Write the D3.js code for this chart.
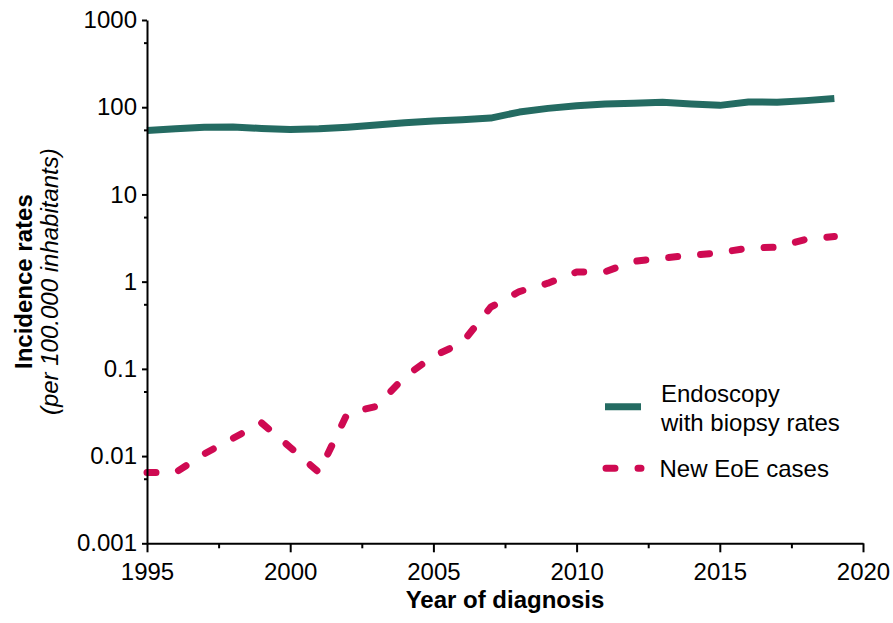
<!DOCTYPE html>
<html>
<head>
<meta charset="utf-8">
<script src="https://cdn.jsdelivr.net/npm/d3@7"></script>
<style>
  html, body { margin: 0; padding: 0; background: #fff; }
  svg { display: block; font-family: "Liberation Sans", Arial, sans-serif; }
</style>
</head>
<body>
<div id="chart"></div>
<script>
// data -------------------------------------------------------------------------------------
const years = [1995, 1996, 1997, 1998, 1999, 2000, 2001, 2002, 2003, 2004, 2005, 2006, 2007,
  2008, 2009, 2010, 2011, 2012, 2013, 2014, 2015, 2016, 2017, 2018, 2019];
const endoscopy = [54, 56.5, 59, 59.5, 57, 55.5, 56.5, 59, 62.5, 66.5, 69.5, 72, 75,
  88, 97, 104, 109, 111, 114, 109, 105, 115, 114, 119, 126];
const newEoE = [0.0065, 0.0065, 0.0106, 0.016, 0.024, 0.0126, 0.0065, 0.031, 0.037, 0.081, 0.14, 0.198, 0.51,
  0.77, 0.96, 1.29, 1.3, 1.71, 1.87, 2.0, 2.15, 2.43, 2.48, 3.05, 3.3];
const yTicks = [0.001, 0.01, 0.1, 1, 10, 100, 1000];
const yTickLabels = ['0.001', '0.01', '0.1', '1', '10', '100', '1000'];
const yMinorTicks = [0.0055, 0.055, 0.55, 5.5, 55, 550];
const xTicks = [1995, 2000, 2005, 2010, 2015, 2020];
const xMinorTicks = [1997.5, 2002.5, 2007.5, 2012.5, 2017.5];
const seriesNames = ['Endoscopy', 'with biopsy rates', 'New EoE cases'];

// size -------------------------------------------------------------------------------------
const width = 893;
const height = 623;
const plot = { left: 147, right: 863, top: 20, bottom: 543.3 };
const green = '#246b62';
const red = '#cf0a52';
const fontSize = 24;

const svg = d3.select('#chart').append('svg')
  .attr('width', width)
  .attr('height', height)
  .attr('viewBox', '0 0 ' + width + ' ' + height);

// scales -----------------------------------------------------------------------------------
const xScale = d3.scaleLinear()
  .domain([1995, 2020])
  .range([plot.left, plot.right]);
const yScale = d3.scaleLog()
  .domain([0.001, 1000])
  .range([plot.bottom, plot.top]);

// lines ------------------------------------------------------------------------------------
const line = d3.line()
  .x(d => xScale(d[0]))
  .y(d => yScale(d[1]));

svg.append('path')
  .datum(years.map((y, i) => [y, endoscopy[i]]))
  .attr('d', line)
  .attr('fill', 'none')
  .attr('stroke', green)
  .attr('stroke-width', 7)
  .attr('stroke-linejoin', 'round');

svg.append('path')
  .datum(years.map((y, i) => [y, newEoE[i]]))
  .attr('d', line)
  .attr('fill', 'none')
  .attr('stroke', red)
  .attr('stroke-width', 7)
  .attr('stroke-linecap', 'round')
  .attr('stroke-linejoin', 'round')
  .attr('stroke-dasharray', '9,23');

// y axis -----------------------------------------------------------------------------------
const yAxis = svg.append('g')
  .attr('transform', 'translate(' + plot.left + ',0)')
  .call(d3.axisLeft(yScale)
    .tickValues(yTicks)
    .tickFormat((d, i) => yTickLabels[i])
    .tickSize(5)
    .tickPadding(5)
    .tickSizeOuter(0));
svg.append('g')
  .attr('transform', 'translate(' + plot.left + ',0)')
  .call(d3.axisLeft(yScale)
    .tickValues(yMinorTicks)
    .tickFormat('')
    .tickSize(3)
    .tickSizeOuter(0))
  .select('.domain').remove();

// x axis -----------------------------------------------------------------------------------
const xAxis = svg.append('g')
  .attr('transform', 'translate(0,' + plot.bottom + ')')
  .call(d3.axisBottom(xScale)
    .tickValues(xTicks)
    .tickFormat(d3.format('d'))
    .tickSize(9)
    .tickSizeOuter(0));
svg.append('g')
  .attr('transform', 'translate(0,' + plot.bottom + ')')
  .call(d3.axisBottom(xScale)
    .tickValues(xMinorTicks)
    .tickFormat('')
    .tickSize(5)
    .tickSizeOuter(0))
  .select('.domain').remove();

xAxis.selectAll('text')
  .attr('y', 36.7)
  .attr('dy', 0);

svg.selectAll('.domain, .tick line')
  .attr('stroke', '#000')
  .attr('stroke-width', 2);
svg.selectAll('.tick text')
  .attr('fill', '#000')
  .attr('font-size', fontSize + 'px')
  .attr('font-family', '"Liberation Sans", Arial, sans-serif');

// axis titles ------------------------------------------------------------------------------
svg.append('text')
  .attr('x', 505)
  .attr('y', 608)
  .attr('text-anchor', 'middle')
  .attr('font-size', fontSize + 'px')
  .attr('font-weight', 'bold')
  .text('Year of diagnosis');

const yMid = (plot.top + plot.bottom) / 2;
svg.append('text')
  .attr('transform', 'translate(31.5,' + yMid + ') rotate(-90)')
  .attr('text-anchor', 'middle')
  .attr('font-size', fontSize + 'px')
  .attr('font-weight', 'bold')
  .text('Incidence rates');
svg.append('text')
  .attr('transform', 'translate(58,' + yMid + ') rotate(-90)')
  .attr('text-anchor', 'middle')
  .attr('font-size', fontSize + 'px')
  .attr('font-style', 'italic')
  .text('(per 100.000 inhabitants)');

// legend -----------------------------------------------------------------------------------
const legend = svg.append('g');
legend.append('line')
  .attr('x1', 605).attr('x2', 641)
  .attr('y1', 406.7).attr('y2', 406.7)
  .attr('stroke', green)
  .attr('stroke-width', 7);
legend.append('text')
  .attr('x', 661).attr('y', 402)
  .attr('font-size', fontSize + 'px')
  .text(seriesNames[0]);
legend.append('text')
  .attr('x', 661).attr('y', 430.5)
  .attr('font-size', fontSize + 'px')
  .text(seriesNames[1]);
legend.append('line')
  .attr('x1', 606).attr('x2', 641)
  .attr('y1', 468.3).attr('y2', 468.3)
  .attr('stroke', red)
  .attr('stroke-width', 7)
  .attr('stroke-linecap', 'round')
  .attr('stroke-dasharray', '9,23');
legend.append('text')
  .attr('x', 659.5).attr('y', 476.7)
  .attr('font-size', fontSize + 'px')
  .text(seriesNames[2]);
</script>
</body>
</html>
